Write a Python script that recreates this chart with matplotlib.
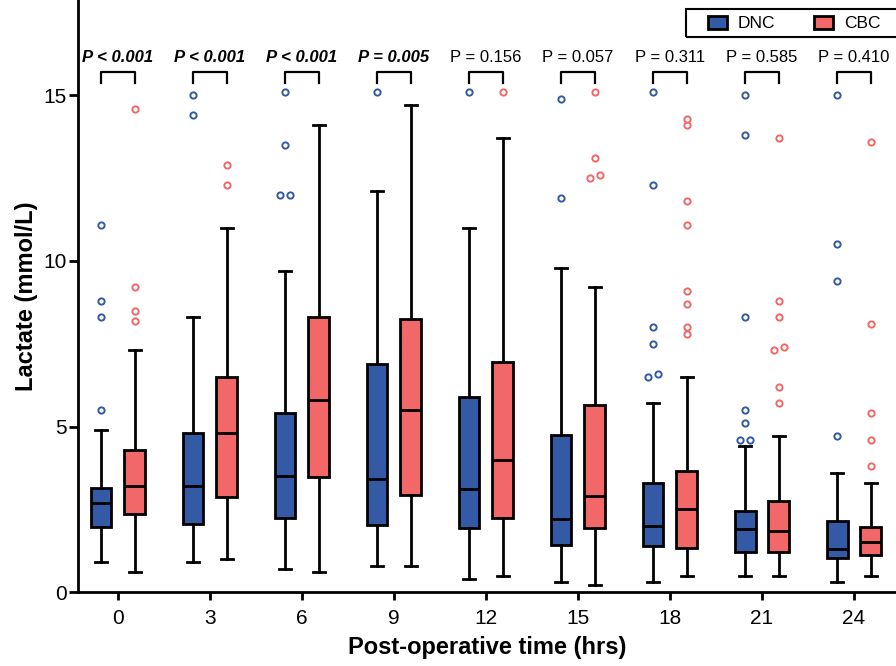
import numpy as np
import matplotlib
matplotlib.use("Agg")
import matplotlib.pyplot as plt
from matplotlib.patches import Patch, Rectangle

plt.rcParams['font.family'] = ['Liberation Sans', 'DejaVu Sans']

# time points (hrs)
times = [0, 3, 6, 9, 12, 15, 18, 21, 24]

# DNC group: whisker low, q1, median, q3, whisker high, outliers
dnc_lo = [0.9, 0.9, 0.7, 0.8, 0.4, 0.3, 0.3, 0.5, 0.3]
dnc_q1 = [1.97, 2.05, 2.24, 2.02, 1.92, 1.42, 1.38, 1.2, 1.02]
dnc_med = [2.7, 3.2, 3.5, 3.4, 3.1, 2.2, 2.0, 1.9, 1.3]
dnc_q3 = [3.15, 4.8, 5.4, 6.9, 5.9, 4.75, 3.3, 2.45, 2.15]
dnc_hi = [4.9, 8.3, 9.7, 12.1, 11.0, 9.8, 5.7, 4.4, 3.6]
dnc_out = [
    [5.5, 8.3, 8.8, 11.1],
    [14.4, 15.0],
    [12.0, 12.0, 13.5, 15.1],
    [15.1],
    [15.1],
    [11.9, 14.9],
    [6.5, 6.6, 7.5, 8.0, 12.3, 15.1],
    [4.6, 4.6, 5.1, 5.5, 8.3, 13.8, 15.0],
    [4.7, 9.4, 10.5, 15.0],
]

# CBC group
cbc_lo = [0.6, 1.0, 0.6, 0.8, 0.5, 0.2, 0.5, 0.5, 0.5]
cbc_q1 = [2.37, 2.88, 3.47, 2.92, 2.23, 1.92, 1.32, 1.22, 1.12]
cbc_med = [3.2, 4.8, 5.8, 5.5, 4.0, 2.9, 2.5, 1.85, 1.5]
cbc_q3 = [4.3, 6.5, 8.3, 8.25, 6.95, 5.65, 3.65, 2.75, 1.97]
cbc_hi = [7.3, 11.0, 14.1, 14.7, 13.7, 9.2, 6.5, 4.7, 3.3]
cbc_out = [
    [8.2, 8.5, 9.2, 14.6],
    [12.3, 12.9],
    [],
    [],
    [15.1],
    [12.5, 12.6, 13.1, 15.1],
    [7.8, 8.0, 8.7, 9.1, 11.1, 11.8, 14.1, 14.3],
    [5.7, 6.2, 7.3, 7.4, 8.3, 8.8, 13.7],
    [3.8, 4.6, 5.4, 8.1, 13.6],
]

p_labels = ["P < 0.001", "P < 0.001", "P < 0.001", "P = 0.005", "P = 0.156",
            "P = 0.057", "P = 0.311", "P = 0.585", "P = 0.410"]
p_bold = [True, True, True, True, False, False, False, False, False]

blue = '#3459a5'
red = '#f26767'
off = 0.55
bw = 0.68


def stats(lo, q1, med, q3, hi):
    return [dict(whislo=a, q1=b, med=c, q3=d, whishi=e, fliers=[])
            for a, b, c, d, e in zip(lo, q1, med, q3, hi)]


def spread(vals):
    # put near-equal outliers side by side
    vals = sorted(vals)
    dx = np.zeros(len(vals))
    i = 0
    while i < len(vals):
        j = i
        while j + 1 < len(vals) and vals[j + 1] - vals[i] < 0.12:
            j += 1
        n = j - i + 1
        if n > 1:
            dx[i:j + 1] = np.linspace(-0.17, 0.17, n)
        i = j + 1
    return vals, dx


fig = plt.figure(figsize=(8.96, 6.66), dpi=100)
ax = fig.add_axes([0.087, 0.111, 0.913, 0.889])

for st, pos, col, outs in [(stats(dnc_lo, dnc_q1, dnc_med, dnc_q3, dnc_hi), -off, blue, dnc_out),
                           (stats(cbc_lo, cbc_q1, cbc_med, cbc_q3, cbc_hi), off, red, cbc_out)]:
    ax.bxp(st, positions=np.array(times) + pos, widths=bw, patch_artist=True,
           showfliers=False, manage_ticks=False,
           boxprops=dict(facecolor=col, edgecolor='black', linewidth=2),
           medianprops=dict(color='black', linewidth=2),
           whiskerprops=dict(color='black', linewidth=2),
           capprops=dict(color='black', linewidth=2), capwidths=0.4)
    for t, o in zip(times, outs):
        if not o:
            continue
        v, dx = spread(o)
        ax.plot(t + pos + dx, v, 'o', mfc='white', mec=col, ms=4.5, mew=1.4,
                linestyle='none', clip_on=False)

# significance brackets
for t, lab, b in zip(times, p_labels, p_bold):
    ax.plot([t - off, t - off, t + off, t + off], [15.37, 15.7, 15.7, 15.37],
            color='black', lw=1.6)
    ax.text(t, 16.13, lab, ha='center', va='center', fontsize=12,
            fontweight='bold' if b else 'normal', style='italic' if b else 'normal')

ax.set_xlim(-1.3, 25.37)
ax.set_ylim(0, 17.88)
ax.set_xticks(times)
ax.set_yticks([0, 5, 10, 15])
ax.spines['top'].set_visible(False)
ax.spines['right'].set_visible(False)
for s in ['left', 'bottom']:
    ax.spines[s].set_linewidth(2)
ax.tick_params(axis='x', width=2, length=6, pad=6, labelsize=15)
ax.tick_params(axis='y', width=2, length=6.5, pad=1.5, labelsize=15)
ax.set_xlabel('Post-operative time (hrs)', fontsize=17, fontweight='bold', labelpad=6)
ax.set_ylabel('Lactate (mmol/L)', fontsize=17, fontweight='bold', labelpad=4)

# legend (frame drawn separately, runs off the right edge like the original)
handles = [Patch(facecolor=blue, edgecolor='black', linewidth=2, label='DNC'),
           Patch(facecolor=red, edgecolor='black', linewidth=2, label='CBC')]
fig.legend(handles=handles, loc='center left', bbox_to_anchor=(708 / 896, 1 - 23.5 / 666),
           ncol=2, fontsize=12.5, frameon=False,
           handlelength=1.1, handleheight=0.75, handletextpad=0.63, columnspacing=2.2,
           borderaxespad=0, borderpad=0)
fig.patches.append(Rectangle((686 / 896, 1 - 37 / 666), 220 / 896, 28 / 666,
                             transform=fig.transFigure, fill=False,
                             edgecolor='black', linewidth=1.5))

fig.savefig('out.png', dpi=100)
